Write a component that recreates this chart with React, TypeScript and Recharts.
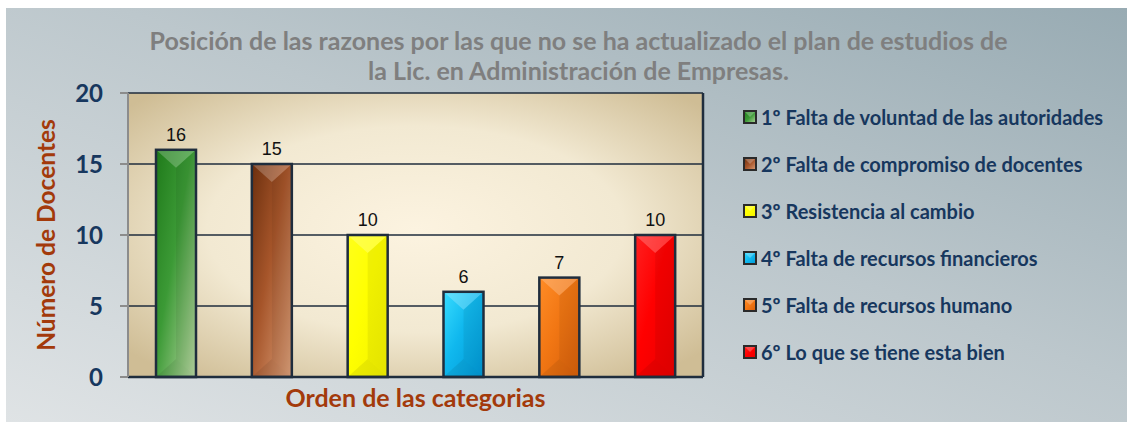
import React from 'react';
import { BarChart, Bar, XAxis, YAxis, CartesianGrid, LabelList } from 'recharts';

const categories = [
  '1º Falta de voluntad de las autoridades',
  '2º Falta de compromiso de docentes',
  '3º Resistencia al cambio',
  '4º Falta de recursos financieros',
  '5º Falta de recursos humano',
  '6º Lo que se tiene esta bien',
];
const values = [16, 15, 10, 6, 7, 10];
const yTicks = [0, 5, 10, 15, 20];

const data = categories.map((name, i) => ({ name, value: values[i] }));

// gradient stops per bar (left-top -> right-bottom)
const barColors = [
  ['#1f7a1a', '#3c9a36', '#b9d8a2'],
  ['#6c2f0e', '#a6552a', '#dca07a'],
  ['#ffff1a', '#ffff00', '#f2f200'],
  ['#38dcff', '#10b8ee', '#0098d6'],
  ['#ff8c26', '#f27714', '#d65f0a'],
  ['#ff2020', '#ff0000', '#ea0000'],
];

const NAVY = '#1f2d3d';
const FONT = 'Lato, "Open Sans", sans-serif';

function BevelBar(props: any) {
  const { x, y, width, height, payload } = props;
  if (!height || height <= 0) return null;
  const i = categories.indexOf(payload.name);
  const d = Math.min(width * 0.45, height / 2);
  const cx = x + width / 2;
  return (
    <g>
      <rect x={x} y={y} width={width} height={height} fill={`url(#barGrad${i})`} />
      <polygon points={`${x},${y} ${x + width},${y} ${cx},${y + d}`} fill="#ffffff" fillOpacity={0.22} />
      <polygon points={`${cx},${y + d} ${x + width},${y} ${x + width},${y + height} ${cx},${y + height - d}`} fill="#000000" fillOpacity={0.06} />
      <polygon points={`${x},${y + height} ${x + width},${y + height} ${cx},${y + height - d}`} fill="#000000" fillOpacity={0.07} />
      <rect x={x} y={y} width={width} height={height} fill="none" stroke={NAVY} strokeWidth={2.5} />
    </g>
  );
}

function LegendSquare({ i }: { i: number }) {
  const c = barColors[i];
  return (
    <svg width={14} height={14} style={{ marginRight: 4, flex: 'none' }}>
      <defs>
        <linearGradient id={`lg${i}`} x1="0" y1="0" x2="1" y2="1">
          <stop offset="0%" stopColor={c[0]} />
          <stop offset="50%" stopColor={c[1]} />
          <stop offset="100%" stopColor={c[2]} />
        </linearGradient>
      </defs>
      <rect x={1} y={1} width={12} height={12} fill={`url(#lg${i})`} stroke="#2a2a2a" strokeWidth={2} />
      <polygon points="2,2 12,2 7,7" fill="#fff" fillOpacity={0.25} />
    </svg>
  );
}

function ChartLegend() {
  return (
    <div
      style={{
        position: 'absolute',
        left: 737,
        top: 85,
        fontFamily: FONT,
        fontWeight: 700,
        fontSize: 20,
        color: '#17375e',
      }}
    >
      {categories.map((c, i) => (
        <div key={c} style={{ display: 'flex', alignItems: 'center', height: 47, whiteSpace: 'nowrap' }}>
          <LegendSquare i={i} />
          <span>{c}</span>
        </div>
      ))}
    </div>
  );
}

export default function App() {
  return (
    <div
      style={{
        position: 'absolute',
        left: 6,
        top: 8,
        width: 1121,
        height: 414,
        background: 'linear-gradient(to bottom left, #98abb3 0%, #bcc7cc 45%, #dfe3e5 100%)',
        fontFamily: FONT,
      }}
    >
      <div
        style={{
          position: 'absolute',
          left: 0,
          width: 1145,
          top: 17,
          textAlign: 'center',
          color: '#7f7f7f',
          fontWeight: 700,
          fontSize: 25,
          lineHeight: '30px',
        }}
      >
        Posición de las razones por las que no se ha actualizado el plan de estudios de
        <br />
        la Lic. en Administración de Empresas.
      </div>
      <BarChart
        width={1121}
        height={414}
        data={data}
        margin={{ top: 85, right: 423, bottom: 5, left: 22 }}
        barSize={40}
        style={{ position: 'absolute', left: 0, top: 0 }}
      >
        <defs>
          <radialGradient id="plotBg" cx="50%" cy="48%" r="66%">
            <stop offset="0%" stopColor="#fcf3e0" />
            <stop offset="55%" stopColor="#f2e9d2" />
            <stop offset="100%" stopColor="#cfbd95" />
          </radialGradient>
          {barColors.map((c, i) => (
            <linearGradient key={i} id={`barGrad${i}`} x1="0" y1="0" x2="1" y2="1">
              <stop offset="0%" stopColor={c[0]} />
              <stop offset="45%" stopColor={c[1]} />
              <stop offset="100%" stopColor={c[2]} />
            </linearGradient>
          ))}
        </defs>
        <CartesianGrid
          vertical={false}
          stroke={NAVY}
          strokeWidth={1.6}
          strokeOpacity={1}
          fill="url(#plotBg)"
          fillOpacity={1}
        />
        <XAxis
          dataKey="name"
          tick={false}
          tickLine={false}
          axisLine={{ stroke: NAVY, strokeWidth: 2.5 }}
          height={40}
          label={{
            content: (p: any) => {
              const vb = p.viewBox;
              return (
                <text
                  x={vb.x + vb.width / 2}
                  y={vb.y + 30}
                  textAnchor="middle"
                  fill="#a33a0b"
                  fontFamily={FONT}
                  fontWeight={700}
                  fontSize={25}
                >
                  Orden de las categorias
                </text>
              );
            },
          }}
        />
        <YAxis
          domain={[0, 20]}
          ticks={yTicks}
          width={100}
          tickSize={8}
          tickMargin={17}
          tickLine={{ stroke: '#8c8c8c', strokeWidth: 2 }}
          axisLine={{ stroke: '#8c8c8c', strokeWidth: 2 }}
          tick={{ fill: '#17375e', fontFamily: FONT, fontWeight: 700, fontSize: 24 }}
          label={{
            content: (p: any) => {
              const vb = p.viewBox;
              const lx = vb.x + 17;
              const ly = vb.y + vb.height / 2;
              return (
                <text
                  x={lx}
                  y={ly}
                  transform={`rotate(-90 ${lx} ${ly})`}
                  textAnchor="middle"
                  dominantBaseline="central"
                  fill="#a33a0b"
                  fontFamily={FONT}
                  fontWeight={700}
                  fontSize={24.5}
                >
                  Número de Docentes
                </text>
              );
            },
          }}
        />
        <YAxis
          yAxisId="r"
          orientation="right"
          domain={[0, 20]}
          width={1}
          tick={false}
          tickLine={false}
          axisLine={{ stroke: NAVY, strokeWidth: 2.5 }}
        />
        <Bar dataKey="value" shape={<BevelBar />} isAnimationActive={false}>
          <LabelList
            dataKey="value"
            position="top"
            offset={9}
            fill="#111"
            fontFamily='"Liberation Sans", Arial, sans-serif'
            fontSize={18}
          />
        </Bar>
      </BarChart>
      <ChartLegend />
    </div>
  );
}
